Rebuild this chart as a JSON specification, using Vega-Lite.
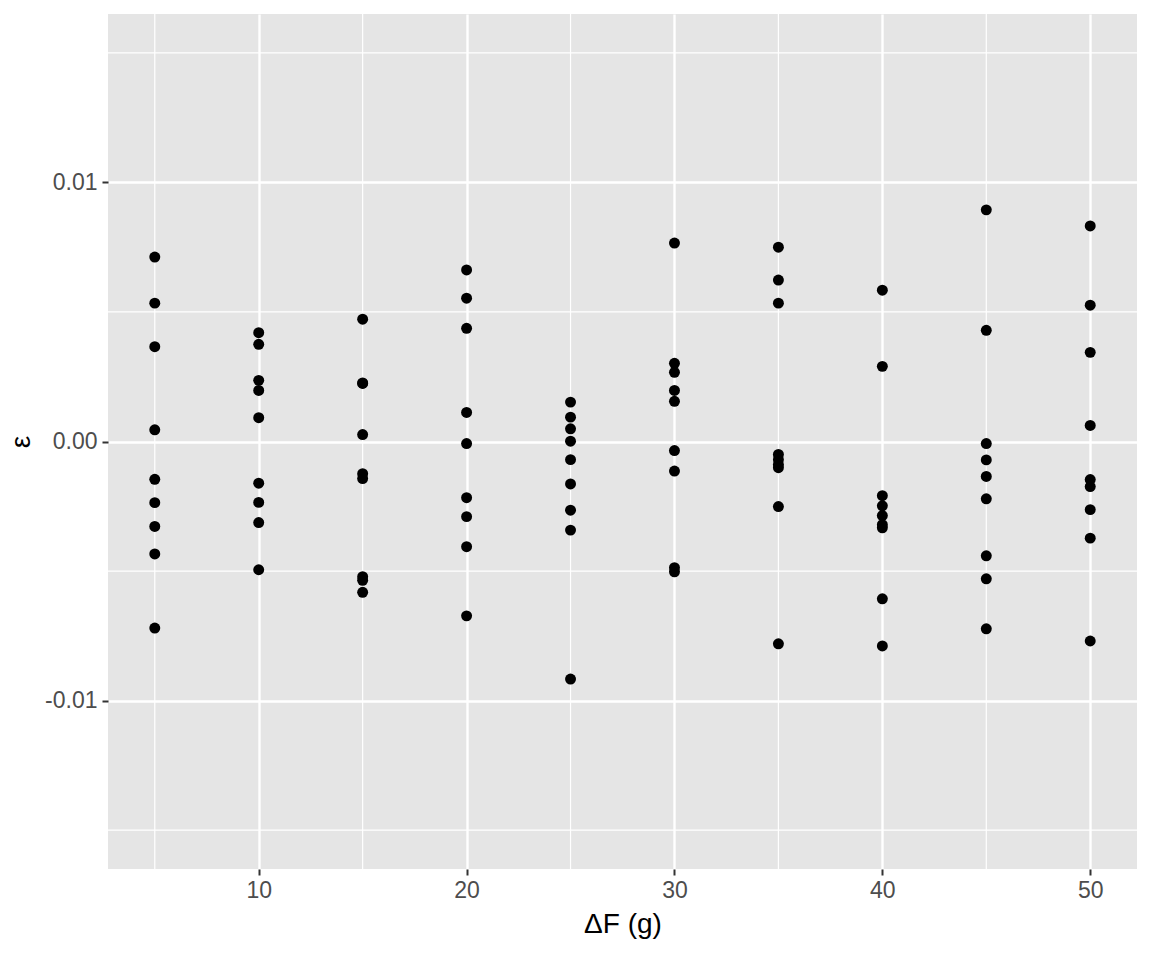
{
  "$schema": "https://vega.github.io/schema/vega-lite/v6.json",
  "width": 1029,
  "height": 855,
  "autosize": {"type": "none"},
  "padding": {"left": 108, "top": 14, "right": 15, "bottom": 91},
  "background": "white",
  "config": {
    "view": {"fill": "#E5E5E5", "stroke": null},
    "font": "Liberation Sans",
    "axis": {
      "domain": false,
      "grid": true,
      "gridColor": "white",
      "gridWidth": 2.4,
      "tickColor": "#333333",
      "tickWidth": 2,
      "tickSize": 6,
      "labelColor": "#4D4D4D",
      "labelFont": "Liberation Sans",
      "labelFontSize": 23,
      "titleFont": "Liberation Sans",
      "titleFontSize": 28,
      "titleFontWeight": "normal",
      "titleColor": "black"
    }
  },
  "datasets": {
    "points": [
      {"F": 5, "eps": 0.00712}, {"F": 5, "eps": 0.00534}, {"F": 5, "eps": 0.00366}, {"F": 5, "eps": 0.00045}, {"F": 5, "eps": -0.00146}, {"F": 5, "eps": -0.00236}, {"F": 5, "eps": -0.00328}, {"F": 5, "eps": -0.00434}, {"F": 5, "eps": -0.00720},
      {"F": 10, "eps": 0.00420}, {"F": 10, "eps": 0.00375}, {"F": 10, "eps": 0.00236}, {"F": 10, "eps": 0.00197}, {"F": 10, "eps": 0.00092}, {"F": 10, "eps": -0.00161}, {"F": 10, "eps": -0.00235}, {"F": 10, "eps": -0.00313}, {"F": 10, "eps": -0.00495},
      {"F": 15, "eps": 0.00472}, {"F": 15, "eps": 0.00224}, {"F": 15, "eps": 0.00226}, {"F": 15, "eps": 0.00027}, {"F": 15, "eps": -0.00124}, {"F": 15, "eps": -0.00143}, {"F": 15, "eps": -0.00522}, {"F": 15, "eps": -0.00536}, {"F": 15, "eps": -0.00582},
      {"F": 20, "eps": 0.00662}, {"F": 20, "eps": 0.00553}, {"F": 20, "eps": 0.00437}, {"F": 20, "eps": 0.00112}, {"F": 20, "eps": -0.00008}, {"F": 20, "eps": -0.00217}, {"F": 20, "eps": -0.00290}, {"F": 20, "eps": -0.00406}, {"F": 20, "eps": -0.00673},
      {"F": 25, "eps": 0.00152}, {"F": 25, "eps": 0.00094}, {"F": 25, "eps": 0.00049}, {"F": 25, "eps": 0.00001}, {"F": 25, "eps": -0.00070}, {"F": 25, "eps": -0.00164}, {"F": 25, "eps": -0.00265}, {"F": 25, "eps": -0.00342}, {"F": 25, "eps": -0.00917},
      {"F": 30, "eps": 0.00766}, {"F": 30, "eps": 0.00302}, {"F": 30, "eps": 0.00267}, {"F": 30, "eps": 0.00197}, {"F": 30, "eps": 0.00155}, {"F": 30, "eps": -0.00035}, {"F": 30, "eps": -0.00114}, {"F": 30, "eps": -0.00487}, {"F": 30, "eps": -0.00503},
      {"F": 35, "eps": 0.00750}, {"F": 35, "eps": 0.00623}, {"F": 35, "eps": 0.00534}, {"F": 35, "eps": -0.00050}, {"F": 35, "eps": -0.00070}, {"F": 35, "eps": -0.00089}, {"F": 35, "eps": -0.00101}, {"F": 35, "eps": -0.00251}, {"F": 35, "eps": -0.00781},
      {"F": 40, "eps": 0.00584}, {"F": 40, "eps": 0.00290}, {"F": 40, "eps": -0.00209}, {"F": 40, "eps": -0.00248}, {"F": 40, "eps": -0.00286}, {"F": 40, "eps": -0.00321}, {"F": 40, "eps": -0.00333}, {"F": 40, "eps": -0.00607}, {"F": 40, "eps": -0.00789},
      {"F": 45, "eps": 0.00894}, {"F": 45, "eps": 0.00429}, {"F": 45, "eps": -0.00008}, {"F": 45, "eps": -0.00071}, {"F": 45, "eps": -0.00135}, {"F": 45, "eps": -0.00221}, {"F": 45, "eps": -0.00441}, {"F": 45, "eps": -0.00530}, {"F": 45, "eps": -0.00723},
      {"F": 50, "eps": 0.00832}, {"F": 50, "eps": 0.00526}, {"F": 50, "eps": 0.00344}, {"F": 50, "eps": 0.00062}, {"F": 50, "eps": -0.00147}, {"F": 50, "eps": -0.00174}, {"F": 50, "eps": -0.00263}, {"F": 50, "eps": -0.00373}, {"F": 50, "eps": -0.00770}
    ],
    "xminor": [{"F": 5}, {"F": 15}, {"F": 25}, {"F": 35}, {"F": 45}],
    "yminor": [{"eps": -0.015}, {"eps": -0.005}, {"eps": 0.005}, {"eps": 0.015}]
  },
  "layer": [
    {
      "data": {"name": "xminor"},
      "mark": {"type": "rule", "color": "white", "strokeWidth": 1.2},
      "encoding": {
        "x": {"field": "F", "type": "quantitative", "axis": null, "scale": {"domain": [2.75, 52.25], "nice": false, "zero": false}}
      }
    },
    {
      "data": {"name": "yminor"},
      "mark": {"type": "rule", "color": "white", "strokeWidth": 1.2},
      "encoding": {
        "y": {"field": "eps", "type": "quantitative", "axis": null, "scale": {"domain": [-0.0165, 0.0165], "nice": false, "zero": false}}
      }
    },
    {
      "data": {"name": "points"},
      "mark": {"type": "point", "filled": true, "color": "black", "opacity": 1, "size": 120, "strokeWidth": 0},
      "encoding": {
        "x": {
          "field": "F", "type": "quantitative",
          "scale": {"domain": [2.75, 52.25], "nice": false, "zero": false},
          "axis": {"title": "ΔF (g)", "grid": true, "values": [10, 20, 30, 40, 50], "labelPadding": 4, "titlePadding": 8, "format": "d"}
        },
        "y": {
          "field": "eps", "type": "quantitative",
          "scale": {"domain": [-0.0165, 0.0165], "nice": false, "zero": false},
          "axis": {"title": "ε", "grid": true, "values": [-0.01, 0, 0.01], "labelPadding": 5, "titlePadding": 9, "labelExpr": "replace(format(datum.value, '.2f'), '\u2212', '-')"}
        }
      }
    }
  ],
  "resolve": {"axis": {"x": "independent", "y": "independent"}}
}
